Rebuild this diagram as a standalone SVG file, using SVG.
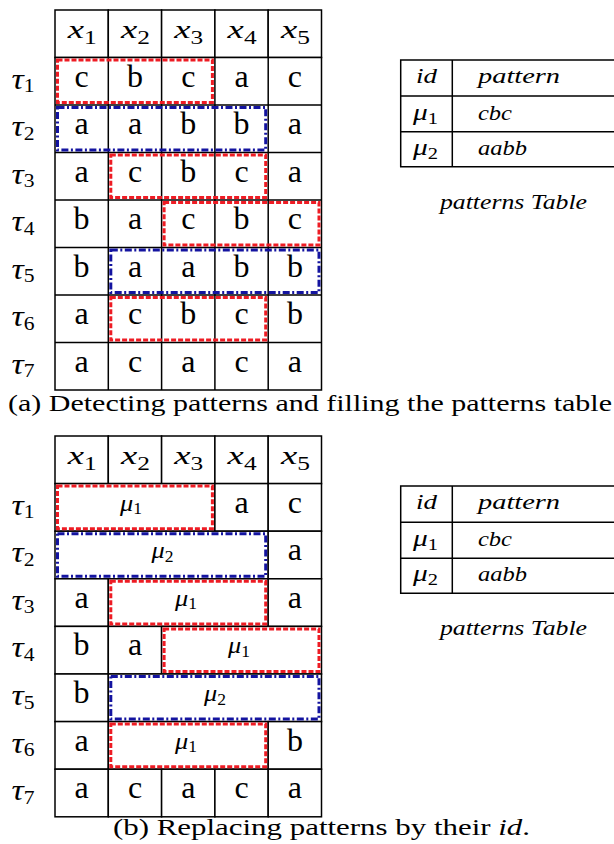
<svg xmlns="http://www.w3.org/2000/svg" width="614" height="844" viewBox="0 0 614 844">
<style>
.cell{fill:#fff;stroke:#000;stroke-width:1.5}
.v{font-family:"Liberation Serif",serif;font-size:32px;text-anchor:middle;fill:#000}
.m{font-family:"Liberation Serif",serif;font-style:italic;fill:#000}
.hd{font-size:26px;text-anchor:middle}
.tau{font-size:30px}
.sb{font-style:normal}
.red{fill:none;stroke:#ee1c24;stroke-width:3;stroke-dasharray:5 2}
.blue{fill:none;stroke:#1414a0;stroke-width:3;stroke-dasharray:7 2.5 2 2.5}
.tb{fill:#fff;stroke:#000;stroke-width:1.5}
.tt{font-family:"Liberation Serif",serif;font-style:italic;font-size:21px;fill:#000}
.tm{font-size:23px}
.cap{font-family:"Liberation Serif",serif;font-size:24px;fill:#000}
.mu{font-family:"Liberation Serif",serif;font-style:italic;font-size:24px;fill:#000}
</style>

<!-- ===== Part (a) ===== -->
<g id="gridA">
  <g id="headerA">
    <rect class="cell" x="55" y="10" width="53.3" height="47.5"/>
    <rect class="cell" x="108.3" y="10" width="53.3" height="47.5"/>
    <rect class="cell" x="161.6" y="10" width="53.3" height="47.5"/>
    <rect class="cell" x="214.9" y="10" width="53.3" height="47.5"/>
    <rect class="cell" x="268.2" y="10" width="53.3" height="47.5"/>
    <text class="m hd" x="82.2" y="38.3" textLength="29" lengthAdjust="spacingAndGlyphs">x<tspan class="sb" font-size="18" dy="6">1</tspan></text>
    <text class="m hd" x="135.5" y="38.3" textLength="29" lengthAdjust="spacingAndGlyphs">x<tspan class="sb" font-size="18" dy="6">2</tspan></text>
    <text class="m hd" x="188.8" y="38.3" textLength="29" lengthAdjust="spacingAndGlyphs">x<tspan class="sb" font-size="18" dy="6">3</tspan></text>
    <text class="m hd" x="242.1" y="38.3" textLength="29" lengthAdjust="spacingAndGlyphs">x<tspan class="sb" font-size="18" dy="6">4</tspan></text>
    <text class="m hd" x="295.4" y="38.3" textLength="29" lengthAdjust="spacingAndGlyphs">x<tspan class="sb" font-size="18" dy="6">5</tspan></text>
  </g>
  <g id="rowlabelsA">
    <text class="m tau" x="11.5" y="88.5" textLength="23" lengthAdjust="spacingAndGlyphs">τ<tspan class="sb" font-size="19" dy="3.5">1</tspan></text>
    <text class="m tau" x="11.5" y="136" textLength="23" lengthAdjust="spacingAndGlyphs">τ<tspan class="sb" font-size="19" dy="3.5">2</tspan></text>
    <text class="m tau" x="11.5" y="183.5" textLength="23" lengthAdjust="spacingAndGlyphs">τ<tspan class="sb" font-size="19" dy="3.5">3</tspan></text>
    <text class="m tau" x="11.5" y="231" textLength="23" lengthAdjust="spacingAndGlyphs">τ<tspan class="sb" font-size="19" dy="3.5">4</tspan></text>
    <text class="m tau" x="11.5" y="278.5" textLength="23" lengthAdjust="spacingAndGlyphs">τ<tspan class="sb" font-size="19" dy="3.5">5</tspan></text>
    <text class="m tau" x="11.5" y="326" textLength="23" lengthAdjust="spacingAndGlyphs">τ<tspan class="sb" font-size="19" dy="3.5">6</tspan></text>
    <text class="m tau" x="11.5" y="373.5" textLength="23" lengthAdjust="spacingAndGlyphs">τ<tspan class="sb" font-size="19" dy="3.5">7</tspan></text>
  </g>
  <g id="cellsA">
    <path class="cell" d="M55 57.5H321.5V390H55Z M55 105H321.5 M55 152.5H321.5 M55 200H321.5 M55 247.5H321.5 M55 295H321.5 M55 342.5H321.5 M108.3 57.5V390 M161.6 57.5V390 M214.9 57.5V390 M268.2 57.5V390"/>
    <text class="v" x="81.6" y="86.5">c</text><text class="v" x="135" y="86.5">b</text><text class="v" x="188.3" y="86.5">c</text><text class="v" x="241.6" y="86.5">a</text><text class="v" x="294.9" y="86.5">c</text>
    <text class="v" x="81.6" y="134">a</text><text class="v" x="135" y="134">a</text><text class="v" x="188.3" y="134">b</text><text class="v" x="241.6" y="134">b</text><text class="v" x="294.9" y="134">a</text>
    <text class="v" x="81.6" y="181.5">a</text><text class="v" x="135" y="181.5">c</text><text class="v" x="188.3" y="181.5">b</text><text class="v" x="241.6" y="181.5">c</text><text class="v" x="294.9" y="181.5">a</text>
    <text class="v" x="81.6" y="229">b</text><text class="v" x="135" y="229">a</text><text class="v" x="188.3" y="229">c</text><text class="v" x="241.6" y="229">b</text><text class="v" x="294.9" y="229">c</text>
    <text class="v" x="81.6" y="276.5">b</text><text class="v" x="135" y="276.5">a</text><text class="v" x="188.3" y="276.5">a</text><text class="v" x="241.6" y="276.5">b</text><text class="v" x="294.9" y="276.5">b</text>
    <text class="v" x="81.6" y="324">a</text><text class="v" x="135" y="324">c</text><text class="v" x="188.3" y="324">b</text><text class="v" x="241.6" y="324">c</text><text class="v" x="294.9" y="324">b</text>
    <text class="v" x="81.6" y="371.5">a</text><text class="v" x="135" y="371.5">c</text><text class="v" x="188.3" y="371.5">a</text><text class="v" x="241.6" y="371.5">c</text><text class="v" x="294.9" y="371.5">a</text>
  </g>
  <g id="patternsA">
    <rect class="red" x="57.5" y="60" width="154.9" height="42.5"/>
    <rect class="blue" x="57.5" y="107.5" width="208.2" height="42.5"/>
    <rect class="red" x="110.8" y="155" width="154.9" height="42.5"/>
    <rect class="red" x="164.1" y="202.5" width="154.9" height="42.5"/>
    <rect class="blue" x="110.8" y="250" width="208.2" height="42.5"/>
    <rect class="red" x="110.8" y="297.5" width="154.9" height="42.5"/>
  </g>
</g>

<g id="tableA">
  <path class="tb" d="M400.7 60H620V166.7H400.7Z M400.7 96H620 M400.7 131.7H620 M452.3 60V166.7"/>
  <text class="tt" x="416" y="83" textLength="21" lengthAdjust="spacingAndGlyphs">id</text>
  <text class="tt" x="478" y="83" textLength="82" lengthAdjust="spacingAndGlyphs">pattern</text>
  <text class="tt tm" x="413" y="120" textLength="25" lengthAdjust="spacingAndGlyphs">μ<tspan class="sb" font-size="16" dy="4">1</tspan></text>
  <text class="tt" x="478" y="120" textLength="34" lengthAdjust="spacingAndGlyphs">cbc</text>
  <text class="tt tm" x="413" y="155" textLength="25" lengthAdjust="spacingAndGlyphs">μ<tspan class="sb" font-size="16" dy="4">2</tspan></text>
  <text class="tt" x="478" y="155" textLength="49" lengthAdjust="spacingAndGlyphs">aabb</text>
  <text class="tt" x="440" y="209" textLength="147" lengthAdjust="spacingAndGlyphs">patterns Table</text>
</g>

<text id="captionA" class="cap" x="8" y="411" textLength="604" lengthAdjust="spacingAndGlyphs">(a) Detecting patterns and filling the patterns table</text>

<!-- ===== Part (b) ===== -->
<g id="gridB">
  <g id="headerB">
    <rect class="cell" x="55" y="436" width="53.3" height="47.6"/>
    <rect class="cell" x="108.3" y="436" width="53.3" height="47.6"/>
    <rect class="cell" x="161.6" y="436" width="53.3" height="47.6"/>
    <rect class="cell" x="214.9" y="436" width="53.3" height="47.6"/>
    <rect class="cell" x="268.2" y="436" width="53.3" height="47.6"/>
    <text class="m hd" x="82.2" y="464.3" textLength="29" lengthAdjust="spacingAndGlyphs">x<tspan class="sb" font-size="18" dy="6">1</tspan></text>
    <text class="m hd" x="135.5" y="464.3" textLength="29" lengthAdjust="spacingAndGlyphs">x<tspan class="sb" font-size="18" dy="6">2</tspan></text>
    <text class="m hd" x="188.8" y="464.3" textLength="29" lengthAdjust="spacingAndGlyphs">x<tspan class="sb" font-size="18" dy="6">3</tspan></text>
    <text class="m hd" x="242.1" y="464.3" textLength="29" lengthAdjust="spacingAndGlyphs">x<tspan class="sb" font-size="18" dy="6">4</tspan></text>
    <text class="m hd" x="295.4" y="464.3" textLength="29" lengthAdjust="spacingAndGlyphs">x<tspan class="sb" font-size="18" dy="6">5</tspan></text>
  </g>
  <g id="rowlabelsB">
    <text class="m tau" x="11.5" y="514.6" textLength="23" lengthAdjust="spacingAndGlyphs">τ<tspan class="sb" font-size="19" dy="3.5">1</tspan></text>
    <text class="m tau" x="11.5" y="562.2" textLength="23" lengthAdjust="spacingAndGlyphs">τ<tspan class="sb" font-size="19" dy="3.5">2</tspan></text>
    <text class="m tau" x="11.5" y="609.8" textLength="23" lengthAdjust="spacingAndGlyphs">τ<tspan class="sb" font-size="19" dy="3.5">3</tspan></text>
    <text class="m tau" x="11.5" y="657.4" textLength="23" lengthAdjust="spacingAndGlyphs">τ<tspan class="sb" font-size="19" dy="3.5">4</tspan></text>
    <text class="m tau" x="11.5" y="705" textLength="23" lengthAdjust="spacingAndGlyphs">τ<tspan class="sb" font-size="19" dy="3.5">5</tspan></text>
    <text class="m tau" x="11.5" y="752.6" textLength="23" lengthAdjust="spacingAndGlyphs">τ<tspan class="sb" font-size="19" dy="3.5">6</tspan></text>
    <text class="m tau" x="11.5" y="800.2" textLength="23" lengthAdjust="spacingAndGlyphs">τ<tspan class="sb" font-size="19" dy="3.5">7</tspan></text>
  </g>
  <g id="cellsB">
    <rect class="cell" x="55" y="483.6" width="159.9" height="47.6"/>
    <rect class="cell" x="214.9" y="483.6" width="53.3" height="47.6"/>
    <rect class="cell" x="268.2" y="483.6" width="53.3" height="47.6"/>
    <rect class="cell" x="55" y="531.2" width="213.2" height="47.6"/>
    <rect class="cell" x="268.2" y="531.2" width="53.3" height="47.6"/>
    <rect class="cell" x="55" y="578.8" width="53.3" height="47.6"/>
    <rect class="cell" x="108.3" y="578.8" width="159.9" height="47.6"/>
    <rect class="cell" x="268.2" y="578.8" width="53.3" height="47.6"/>
    <rect class="cell" x="55" y="626.4" width="53.3" height="47.6"/>
    <rect class="cell" x="108.3" y="626.4" width="53.3" height="47.6"/>
    <rect class="cell" x="161.6" y="626.4" width="159.9" height="47.6"/>
    <rect class="cell" x="55" y="674" width="53.3" height="47.6"/>
    <rect class="cell" x="108.3" y="674" width="213.2" height="47.6"/>
    <rect class="cell" x="55" y="721.6" width="53.3" height="47.6"/>
    <rect class="cell" x="108.3" y="721.6" width="159.9" height="47.6"/>
    <rect class="cell" x="268.2" y="721.6" width="53.3" height="47.6"/>
    <rect class="cell" x="55" y="769.2" width="53.3" height="47.6"/>
    <rect class="cell" x="108.3" y="769.2" width="53.3" height="47.6"/>
    <rect class="cell" x="161.6" y="769.2" width="53.3" height="47.6"/>
    <rect class="cell" x="214.9" y="769.2" width="53.3" height="47.6"/>
    <rect class="cell" x="268.2" y="769.2" width="53.3" height="47.6"/>

    <text class="v" x="241.6" y="512.6">a</text><text class="v" x="294.9" y="512.6">c</text>
    <text class="v" x="294.9" y="560.2">a</text>
    <text class="v" x="81.6" y="607.8">a</text><text class="v" x="294.9" y="607.8">a</text>
    <text class="v" x="81.6" y="655.4">b</text><text class="v" x="135" y="655.4">a</text>
    <text class="v" x="81.6" y="703">b</text>
    <text class="v" x="81.6" y="750.6">a</text><text class="v" x="294.9" y="750.6">b</text>
    <text class="v" x="81.6" y="798.2">a</text><text class="v" x="135" y="798.2">c</text><text class="v" x="188.3" y="798.2">a</text><text class="v" x="241.6" y="798.2">c</text><text class="v" x="294.9" y="798.2">a</text>
  </g>
  <g id="patternsB">
    <rect class="red" x="57.5" y="486.1" width="154.9" height="42.6"/>
    <rect class="blue" x="57.5" y="533.7" width="208.2" height="42.6"/>
    <rect class="red" x="110.8" y="581.3" width="154.9" height="42.6"/>
    <rect class="red" x="164.1" y="628.9" width="154.9" height="42.6"/>
    <rect class="blue" x="110.8" y="676.5" width="208.2" height="42.6"/>
    <rect class="red" x="110.8" y="724.1" width="154.9" height="42.6"/>
    <text class="mu" x="120" y="510.6" textLength="22" lengthAdjust="spacingAndGlyphs">μ<tspan class="sb" font-size="16" dy="3.5">1</tspan></text>
    <text class="mu" x="151.5" y="558.2" textLength="22" lengthAdjust="spacingAndGlyphs">μ<tspan class="sb" font-size="16" dy="3.5">2</tspan></text>
    <text class="mu" x="175" y="605.8" textLength="22" lengthAdjust="spacingAndGlyphs">μ<tspan class="sb" font-size="16" dy="3.5">1</tspan></text>
    <text class="mu" x="228" y="653.4" textLength="22" lengthAdjust="spacingAndGlyphs">μ<tspan class="sb" font-size="16" dy="3.5">1</tspan></text>
    <text class="mu" x="204" y="701" textLength="22" lengthAdjust="spacingAndGlyphs">μ<tspan class="sb" font-size="16" dy="3.5">2</tspan></text>
    <text class="mu" x="175" y="748.6" textLength="22" lengthAdjust="spacingAndGlyphs">μ<tspan class="sb" font-size="16" dy="3.5">1</tspan></text>
  </g>
</g>

<g id="tableB">
  <path class="tb" d="M400.7 486H620V593.3H400.7Z M400.7 522.3H620 M400.7 558.3H620 M452.3 486V593.3"/>
  <text class="tt" x="416" y="509" textLength="21" lengthAdjust="spacingAndGlyphs">id</text>
  <text class="tt" x="478" y="509" textLength="82" lengthAdjust="spacingAndGlyphs">pattern</text>
  <text class="tt tm" x="413" y="546" textLength="25" lengthAdjust="spacingAndGlyphs">μ<tspan class="sb" font-size="16" dy="4">1</tspan></text>
  <text class="tt" x="478" y="546" textLength="34" lengthAdjust="spacingAndGlyphs">cbc</text>
  <text class="tt tm" x="413" y="581" textLength="25" lengthAdjust="spacingAndGlyphs">μ<tspan class="sb" font-size="16" dy="4">2</tspan></text>
  <text class="tt" x="478" y="581" textLength="49" lengthAdjust="spacingAndGlyphs">aabb</text>
  <text class="tt" x="440" y="635" textLength="147" lengthAdjust="spacingAndGlyphs">patterns Table</text>
</g>

<text id="captionB" class="cap" x="113" y="835" textLength="417" lengthAdjust="spacingAndGlyphs">(b) Replacing patterns by their <tspan font-style="italic">id</tspan>.</text>
</svg>
